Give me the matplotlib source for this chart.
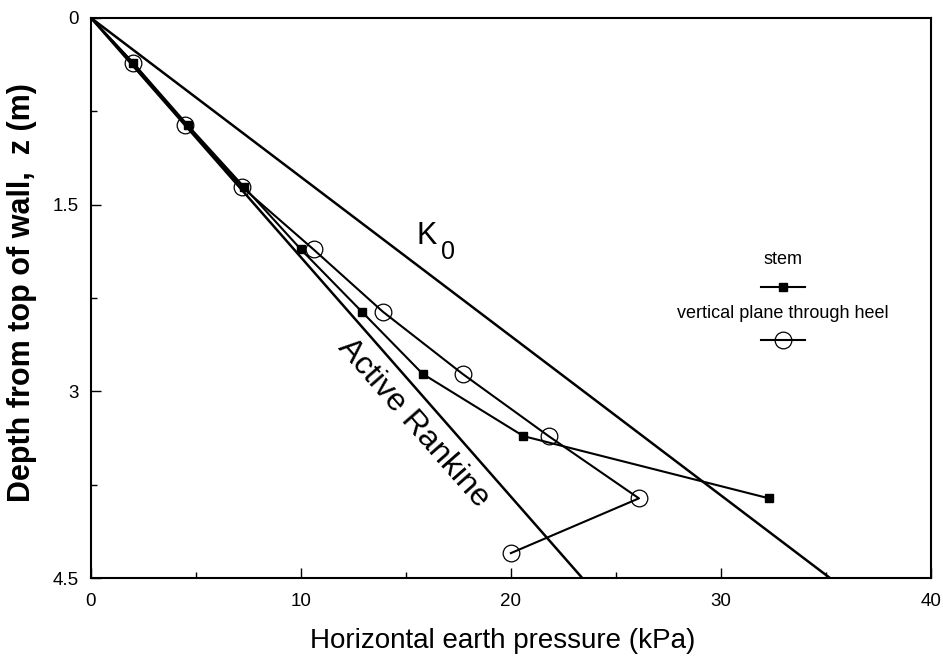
import matplotlib

matplotlib.use("Agg")
import matplotlib.pyplot as plt
import numpy as np

plt.rcParams["font.family"] = ["Liberation Sans", "DejaVu Sans"]

# depth (m) of the measured points
depth = [0.0, 0.36, 0.86, 1.36, 1.86, 2.36, 2.86, 3.36, 3.86]
stem_p = [0.0, 2.0, 4.6, 7.3, 10.0, 12.9, 15.8, 20.6, 32.3]

heel_depth = [0.0, 0.36, 0.86, 1.36, 1.86, 2.36, 2.86, 3.36, 3.86, 4.30]
heel_p = [0.0, 2.0, 4.5, 7.2, 10.6, 13.9, 17.7, 21.8, 26.1, 20.0]

# theoretical lines: pressure at z = 4.5 m
line_depth = [0.0, 4.5]
rankine_p = [0.0, 23.4]
k0_p = [0.0, 35.2]

fig = plt.figure(figsize=(9.43, 6.64), dpi=100)
ax = fig.add_axes([0.0965, 0.1295, 0.8905, 0.8435])

ax.plot(rankine_p, line_depth, color="black", lw=1.8)
ax.plot(k0_p, line_depth, color="black", lw=1.8)
ax.plot(stem_p, depth, color="black", lw=1.5, marker="s", ms=6,
        markevery=list(range(1, len(depth))))
ax.plot(heel_p, heel_depth, color="black", lw=1.5, marker="o", ms=12,
        fillstyle="none", mew=0.9, markevery=list(range(1, len(heel_depth))))

ax.set_xlim(0, 40)
ax.set_ylim(4.5, 0)
ax.set_xticks([0, 10, 20, 30, 40])
ax.set_xticks([5, 15, 25, 35], minor=True)
ax.set_yticks([0, 1.5, 3, 4.5])
ax.set_yticklabels(["0", "1.5", "3", "4.5"])
ax.set_yticks([0.75, 2.25, 3.75], minor=True)
ax.tick_params(which="both", direction="in", labelsize=13.5, width=1.0)
ax.tick_params(which="major", length=7)
ax.tick_params(which="minor", length=4)
ax.tick_params(axis="x", pad=11)
ax.tick_params(axis="y", pad=9)
for s in ax.spines.values():
    s.set_linewidth(1.5)

ax.set_xlabel("Horizontal earth pressure (kPa)", fontsize=20)
ax.xaxis.set_label_coords(0.49, -0.09)
ax.set_ylabel("Depth from top of wall,  z (m)", fontsize=22, fontweight="bold")
ax.yaxis.set_label_coords(-0.064, 0.509)

ax.text(16.0, 1.75, "K", fontsize=22, ha="center", va="center")
ax.text(17.0, 1.88, "0", fontsize=18, ha="center", va="center")
ang = np.degrees(np.arctan2(-4.5 * 0.8435 * 6.64 / 4.5, 23.4 * 0.8905 * 9.43 / 40))
ax.text(15.38, 3.256, "Active Rankine", fontsize=23, ha="center", va="center",
        rotation=ang, rotation_mode="anchor")

# legend, drawn by hand: label above its sample
lx = 0.824
ax.text(lx, 0.568, "stem", transform=ax.transAxes, ha="center", va="center", fontsize=13)
ax.plot([lx - 0.026, lx + 0.026], [0.520, 0.520], transform=ax.transAxes,
        color="black", lw=1.5)
ax.plot([lx], [0.520], transform=ax.transAxes, color="black", marker="s", ms=6)
ax.text(lx, 0.473, "vertical plane through heel", transform=ax.transAxes,
        ha="center", va="center", fontsize=13)
ax.plot([lx - 0.026, lx + 0.026], [0.425, 0.425], transform=ax.transAxes,
        color="black", lw=1.5)
ax.plot([lx], [0.425], transform=ax.transAxes, color="black", marker="o", ms=12,
        fillstyle="none", mew=0.9)

fig.savefig("out.png", dpi=100)
